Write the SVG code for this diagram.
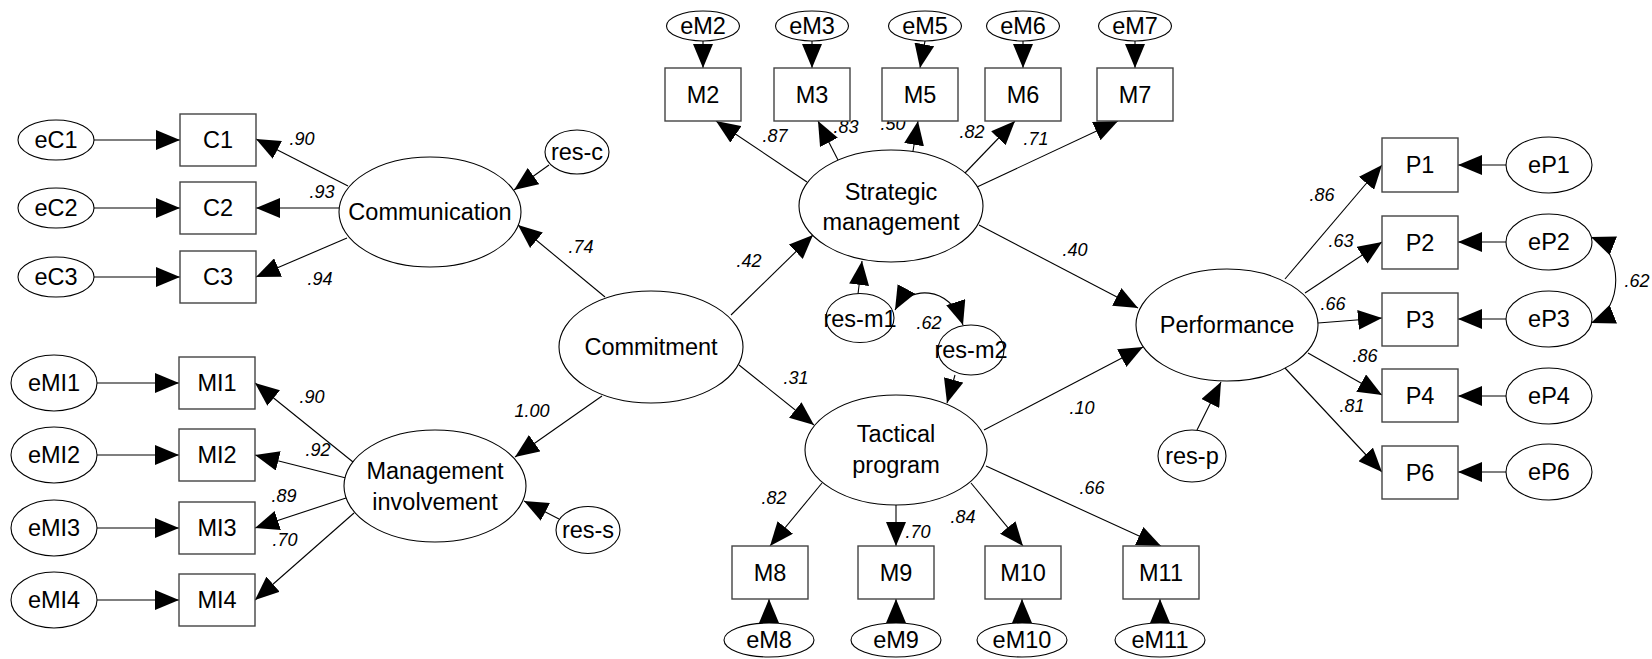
<svg xmlns="http://www.w3.org/2000/svg" width="1652" height="659" viewBox="0 0 1652 659">
  <defs>
    <style>
      .bg { fill: #ffffff; }
      .obs { fill: #ffffff; stroke: #444444; stroke-width: 1.4; }
      .lat { fill: #ffffff; stroke: #000000; stroke-width: 1.1; }
      .t { font-family: "Liberation Sans", Arial, sans-serif; font-size: 23.5px; fill: #000000; text-anchor: middle; }
      .w { font-family: "Liberation Sans", Arial, sans-serif; font-size: 18px; font-style: italic; fill: #000000; text-anchor: middle; }
      .c { fill: none; stroke: #000000; stroke-width: 1.1; marker-end: url(#ah); }
      .cc { fill: none; stroke: #000000; stroke-width: 1.1; marker-start: url(#ah); marker-end: url(#ah); }
    </style>
    <marker id="ah" viewBox="0 0 24 20" refX="24" refY="10" markerWidth="24" markerHeight="20" markerUnits="userSpaceOnUse" orient="auto-start-reverse">
      <path d="M0,0 L24,10 L0,20 z" fill="#000000"/>
    </marker>
  </defs>
  <rect class="bg" x="0" y="0" width="1652" height="659"/>

  <!-- connectors -->
  <g id="connectors">
    <!-- error terms to communication indicators -->
    <line class="c" x1="94" y1="140" x2="180" y2="140"/>
    <line class="c" x1="94" y1="208" x2="180" y2="208"/>
    <line class="c" x1="94" y1="277" x2="180" y2="277"/>
    <!-- error terms to involvement indicators -->
    <line class="c" x1="97" y1="383" x2="179" y2="383"/>
    <line class="c" x1="97" y1="455" x2="179" y2="455"/>
    <line class="c" x1="97" y1="528" x2="179" y2="528"/>
    <line class="c" x1="97" y1="600" x2="179" y2="600"/>
    <!-- communication loadings -->
    <line class="c" x1="348" y1="186" x2="256" y2="139"/>
    <line class="c" x1="339" y1="208" x2="256" y2="208"/>
    <line class="c" x1="347" y1="238" x2="256" y2="277"/>
    <line class="c" x1="549" y1="165" x2="514" y2="190"/>
    <line class="c" x1="605" y1="297" x2="518" y2="225"/>
    <!-- involvement loadings -->
    <line class="c" x1="353" y1="462" x2="255" y2="383"/>
    <line class="c" x1="346" y1="478" x2="255" y2="455"/>
    <line class="c" x1="346" y1="498" x2="255" y2="528"/>
    <line class="c" x1="354" y1="513" x2="255" y2="600"/>
    <line class="c" x1="602" y1="396" x2="515" y2="457"/>
    <line class="c" x1="559" y1="519" x2="524" y2="501"/>
    <!-- structural paths -->
    <line class="c" x1="731" y1="315" x2="813" y2="235"/>
    <line class="c" x1="739" y1="365" x2="814" y2="425"/>
    <line class="c" x1="979" y1="225" x2="1138" y2="308"/>
    <line class="c" x1="984" y1="430" x2="1143" y2="347"/>
    <line class="c" x1="858" y1="294" x2="862" y2="261"/>
    <line class="c" x1="955" y1="375" x2="947" y2="403"/>
    <line class="c" x1="1197" y1="430" x2="1221" y2="382"/>
    <path class="cc" d="M895,310 C908,286 950,284 963,325"/>
    <!-- strategic management loadings -->
    <line class="c" x1="807" y1="182" x2="716" y2="121"/>
    <line class="c" x1="838" y1="160" x2="818" y2="121"/>
    <line class="c" x1="913" y1="151" x2="918" y2="121"/>
    <line class="c" x1="965" y1="173" x2="1015" y2="121"/>
    <line class="c" x1="977" y1="187" x2="1118" y2="121"/>
    <!-- top error terms -->
    <line class="c" x1="703" y1="41" x2="703" y2="68"/>
    <line class="c" x1="812" y1="41" x2="812" y2="68"/>
    <line class="c" x1="925" y1="41" x2="920" y2="68"/>
    <line class="c" x1="1023" y1="41" x2="1023" y2="68"/>
    <line class="c" x1="1135" y1="41" x2="1135" y2="68"/>
    <!-- tactical program loadings -->
    <line class="c" x1="822" y1="483" x2="770" y2="546"/>
    <line class="c" x1="896" y1="505" x2="896" y2="546"/>
    <line class="c" x1="971" y1="483" x2="1023" y2="546"/>
    <line class="c" x1="986" y1="466" x2="1161" y2="546"/>
    <!-- bottom error terms -->
    <line class="c" x1="769" y1="623" x2="769" y2="599"/>
    <line class="c" x1="896" y1="623" x2="896" y2="599"/>
    <line class="c" x1="1022" y1="623" x2="1022" y2="599"/>
    <line class="c" x1="1160" y1="623" x2="1160" y2="599"/>
    <!-- performance loadings -->
    <line class="c" x1="1285" y1="279" x2="1382" y2="165"/>
    <line class="c" x1="1305" y1="293" x2="1382" y2="242"/>
    <line class="c" x1="1318" y1="323" x2="1382" y2="318"/>
    <line class="c" x1="1308" y1="353" x2="1382" y2="395"/>
    <line class="c" x1="1285" y1="368" x2="1382" y2="472"/>
    <!-- performance error terms -->
    <line class="c" x1="1507" y1="165" x2="1458" y2="165"/>
    <line class="c" x1="1507" y1="242" x2="1458" y2="242"/>
    <line class="c" x1="1507" y1="319" x2="1458" y2="319"/>
    <line class="c" x1="1507" y1="396" x2="1458" y2="396"/>
    <line class="c" x1="1507" y1="472" x2="1458" y2="472"/>
    <path class="cc" d="M1591,237 C1624,250 1624,310 1591,323"/>

    <!-- weights -->
    <text class="w" x="302" y="145">.90</text>
    <text class="w" x="322" y="198">.93</text>
    <text class="w" x="320" y="285">.94</text>
    <text class="w" x="581" y="253">.74</text>
    <text class="w" x="312" y="403">.90</text>
    <text class="w" x="318" y="456">.92</text>
    <text class="w" x="284" y="502">.89</text>
    <text class="w" x="285" y="546">.70</text>
    <text class="w" x="532" y="417">1.00</text>
    <text class="w" x="749" y="267">.42</text>
    <text class="w" x="796" y="384">.31</text>
    <text class="w" x="775" y="142">.87</text>
    <text class="w" x="846" y="133">.83</text>
    <text class="w" x="893" y="130">.50</text>
    <text class="w" x="972" y="138">.82</text>
    <text class="w" x="1036" y="145">.71</text>
    <text class="w" x="1075" y="256">.40</text>
    <text class="w" x="929" y="329">.62</text>
    <text class="w" x="1082" y="414">.10</text>
    <text class="w" x="774" y="504">.82</text>
    <text class="w" x="918" y="538">.70</text>
    <text class="w" x="963" y="523">.84</text>
    <text class="w" x="1092" y="494">.66</text>
    <text class="w" x="1322" y="201">.86</text>
    <text class="w" x="1341" y="247">.63</text>
    <text class="w" x="1333" y="310">.66</text>
    <text class="w" x="1365" y="362">.86</text>
    <text class="w" x="1352" y="412">.81</text>
    <text class="w" x="1637" y="287">.62</text>
  </g>

  <!-- communication block -->
  <g id="eC1"><ellipse class="lat" cx="56" cy="140" rx="38" ry="20"/><text class="t" x="56" y="148">eC1</text></g>
  <g id="eC2"><ellipse class="lat" cx="56" cy="208" rx="38" ry="20"/><text class="t" x="56" y="216">eC2</text></g>
  <g id="eC3"><ellipse class="lat" cx="56" cy="277" rx="38" ry="20"/><text class="t" x="56" y="285">eC3</text></g>
  <g id="C1"><rect class="obs" x="180" y="114" width="76" height="52"/><text class="t" x="218" y="148">C1</text></g>
  <g id="C2"><rect class="obs" x="180" y="182" width="76" height="52"/><text class="t" x="218" y="216">C2</text></g>
  <g id="C3"><rect class="obs" x="180" y="251" width="76" height="52"/><text class="t" x="218" y="285">C3</text></g>
  <g id="Communication"><ellipse class="lat" cx="430" cy="212" rx="91" ry="55"/><text class="t" x="430" y="220">Communication</text></g>
  <g id="res-c"><ellipse class="lat" cx="577" cy="152" rx="32" ry="22"/><text class="t" x="577" y="160">res-c</text></g>

  <!-- management involvement block -->
  <g id="eMI1"><ellipse class="lat" cx="54" cy="383" rx="43" ry="28"/><text class="t" x="54" y="391">eMI1</text></g>
  <g id="eMI2"><ellipse class="lat" cx="54" cy="455" rx="43" ry="28"/><text class="t" x="54" y="463">eMI2</text></g>
  <g id="eMI3"><ellipse class="lat" cx="54" cy="528" rx="43" ry="28"/><text class="t" x="54" y="536">eMI3</text></g>
  <g id="eMI4"><ellipse class="lat" cx="54" cy="600" rx="43" ry="28"/><text class="t" x="54" y="608">eMI4</text></g>
  <g id="MI1"><rect class="obs" x="179" y="357" width="76" height="52"/><text class="t" x="217" y="391">MI1</text></g>
  <g id="MI2"><rect class="obs" x="179" y="429" width="76" height="52"/><text class="t" x="217" y="463">MI2</text></g>
  <g id="MI3"><rect class="obs" x="179" y="502" width="76" height="52"/><text class="t" x="217" y="536">MI3</text></g>
  <g id="MI4"><rect class="obs" x="179" y="574" width="76" height="52"/><text class="t" x="217" y="608">MI4</text></g>
  <g id="ManagementInvolvement"><ellipse class="lat" cx="435" cy="486" rx="91" ry="56"/><text class="t" x="435" y="479">Management</text><text class="t" x="435" y="510">involvement</text></g>
  <g id="res-s"><ellipse class="lat" cx="588" cy="530" rx="32" ry="23.5"/><text class="t" x="588" y="538">res-s</text></g>

  <!-- commitment -->
  <g id="Commitment"><ellipse class="lat" cx="651" cy="347" rx="92" ry="56"/><text class="t" x="651" y="355">Commitment</text></g>

  <!-- strategic management block -->
  <g id="eM2"><ellipse class="lat" cx="703" cy="26" rx="36.5" ry="15"/><text class="t" x="703" y="34">eM2</text></g>
  <g id="eM3"><ellipse class="lat" cx="812" cy="26" rx="36.5" ry="15"/><text class="t" x="812" y="34">eM3</text></g>
  <g id="eM5"><ellipse class="lat" cx="925" cy="26" rx="36.5" ry="15"/><text class="t" x="925" y="34">eM5</text></g>
  <g id="eM6"><ellipse class="lat" cx="1023" cy="26" rx="36.5" ry="15"/><text class="t" x="1023" y="34">eM6</text></g>
  <g id="eM7"><ellipse class="lat" cx="1135" cy="26" rx="36.5" ry="15"/><text class="t" x="1135" y="34">eM7</text></g>
  <g id="M2"><rect class="obs" x="665" y="68" width="76" height="53"/><text class="t" x="703" y="103">M2</text></g>
  <g id="M3"><rect class="obs" x="774" y="68" width="76" height="53"/><text class="t" x="812" y="103">M3</text></g>
  <g id="M5"><rect class="obs" x="882" y="68" width="76" height="53"/><text class="t" x="920" y="103">M5</text></g>
  <g id="M6"><rect class="obs" x="985" y="68" width="76" height="53"/><text class="t" x="1023" y="103">M6</text></g>
  <g id="M7"><rect class="obs" x="1097" y="68" width="76" height="53"/><text class="t" x="1135" y="103">M7</text></g>
  <g id="StrategicManagement"><ellipse class="lat" cx="891" cy="206" rx="92" ry="56"/><text class="t" x="891" y="200">Strategic</text><text class="t" x="891" y="230">management</text></g>
  <g id="res-m1"><ellipse class="lat" cx="860" cy="318" rx="34" ry="24.5"/><text class="t" x="860" y="327">res-m1</text></g>
  <g id="res-m2"><ellipse class="lat" cx="971" cy="350" rx="33" ry="25"/><text class="t" x="971" y="358">res-m2</text></g>

  <!-- tactical program block -->
  <g id="TacticalProgram"><ellipse class="lat" cx="896" cy="450" rx="91" ry="55"/><text class="t" x="896" y="442">Tactical</text><text class="t" x="896" y="473">program</text></g>
  <g id="M8"><rect class="obs" x="732" y="546" width="76" height="53"/><text class="t" x="770" y="581">M8</text></g>
  <g id="M9"><rect class="obs" x="858" y="546" width="76" height="53"/><text class="t" x="896" y="581">M9</text></g>
  <g id="M10"><rect class="obs" x="985" y="546" width="76" height="53"/><text class="t" x="1023" y="581">M10</text></g>
  <g id="M11"><rect class="obs" x="1123" y="546" width="76" height="53"/><text class="t" x="1161" y="581">M11</text></g>
  <g id="eM8"><ellipse class="lat" cx="769" cy="640" rx="45" ry="17"/><text class="t" x="769" y="648">eM8</text></g>
  <g id="eM9"><ellipse class="lat" cx="896" cy="640" rx="45" ry="17"/><text class="t" x="896" y="648">eM9</text></g>
  <g id="eM10"><ellipse class="lat" cx="1022" cy="640" rx="45" ry="17"/><text class="t" x="1022" y="648">eM10</text></g>
  <g id="eM11"><ellipse class="lat" cx="1160" cy="640" rx="45" ry="17"/><text class="t" x="1160" y="648">eM11</text></g>

  <!-- performance block -->
  <g id="Performance"><ellipse class="lat" cx="1227" cy="325" rx="91" ry="56"/><text class="t" x="1227" y="333">Performance</text></g>
  <g id="res-p"><ellipse class="lat" cx="1192" cy="456" rx="34" ry="26"/><text class="t" x="1192" y="464">res-p</text></g>
  <g id="P1"><rect class="obs" x="1382" y="138" width="76" height="54"/><text class="t" x="1420" y="173">P1</text></g>
  <g id="P2"><rect class="obs" x="1382" y="216" width="76" height="53"/><text class="t" x="1420" y="251">P2</text></g>
  <g id="P3"><rect class="obs" x="1382" y="293" width="76" height="53"/><text class="t" x="1420" y="328">P3</text></g>
  <g id="P4"><rect class="obs" x="1382" y="369" width="76" height="53"/><text class="t" x="1420" y="404">P4</text></g>
  <g id="P6"><rect class="obs" x="1382" y="446" width="76" height="53"/><text class="t" x="1420" y="481">P6</text></g>
  <g id="eP1"><ellipse class="lat" cx="1549" cy="165" rx="43" ry="28"/><text class="t" x="1549" y="173">eP1</text></g>
  <g id="eP2"><ellipse class="lat" cx="1549" cy="242" rx="43" ry="28"/><text class="t" x="1549" y="250">eP2</text></g>
  <g id="eP3"><ellipse class="lat" cx="1549" cy="319" rx="43" ry="28"/><text class="t" x="1549" y="327">eP3</text></g>
  <g id="eP4"><ellipse class="lat" cx="1549" cy="396" rx="43" ry="28"/><text class="t" x="1549" y="404">eP4</text></g>
  <g id="eP6"><ellipse class="lat" cx="1549" cy="472" rx="43" ry="28"/><text class="t" x="1549" y="480">eP6</text></g>
</svg>
